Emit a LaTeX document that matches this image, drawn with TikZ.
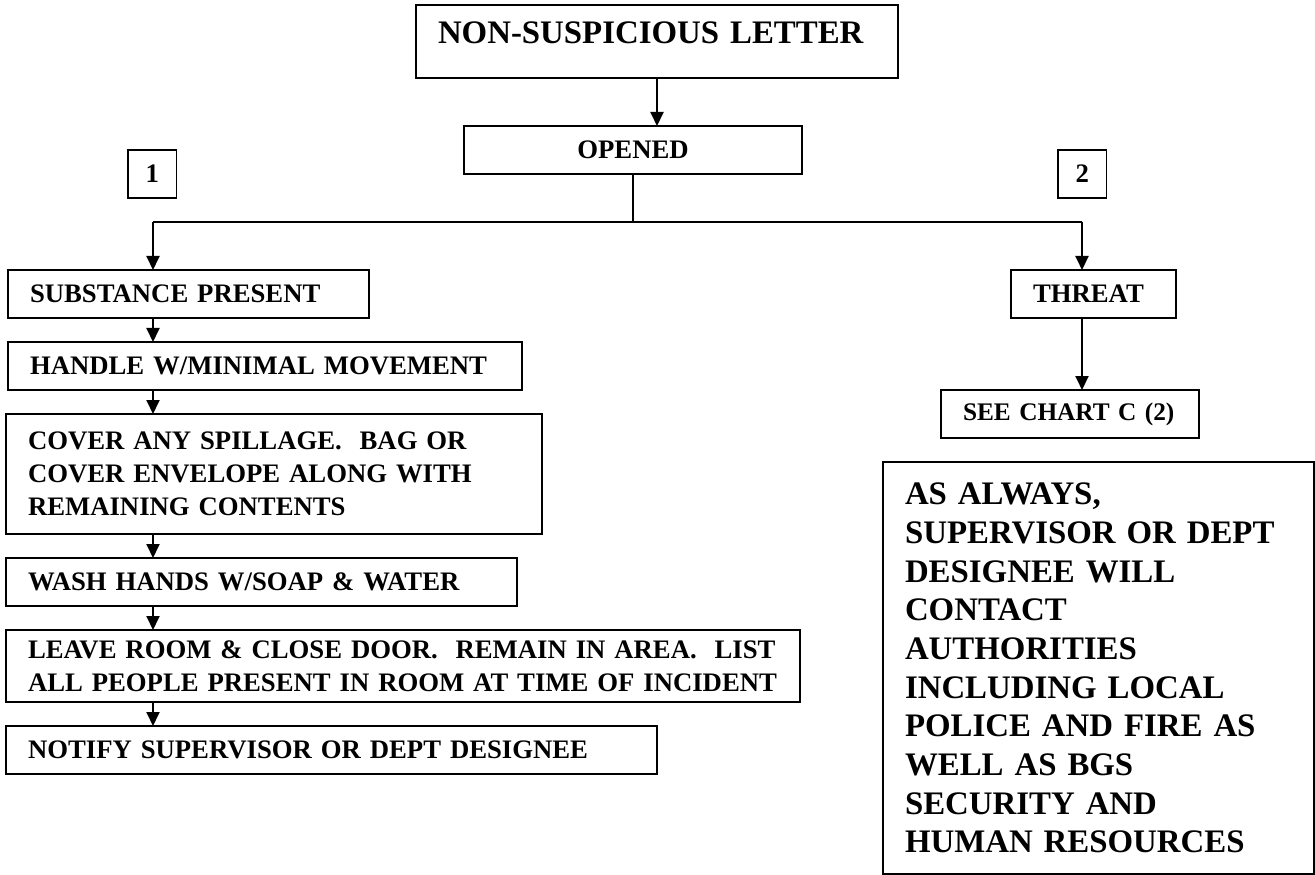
\documentclass[tikz,border=0pt]{standalone}
\usepackage{fontspec}
\setmainfont{Liberation Serif}
\usetikzlibrary{arrows.meta,positioning}

\begin{document}
\begin{tikzpicture}[line width=1.1pt, every node/.style={font=\bfseries\fontsize{15.2}{18.8}\selectfont}]
\tikzstyle{blk}=[draw, anchor=north west, inner xsep=0.44cm, inner ysep=0pt, outer sep=0pt, align=left]
\tikzstyle{num}=[draw, anchor=north west, minimum width=0.97cm, minimum height=0.96cm, inner sep=0pt, outer sep=0pt]
\tikzstyle{big}=[font=\bfseries\fontsize{18.7}{22}\selectfont]
\tikzstyle{arr}=[-{Triangle[length=0.28cm,width=0.26cm]}]
\useasboundingbox (0,0) rectangle (26.3,-17.5);
\node[blk, big, text width=8.76cm, minimum height=1.46cm, text depth=0.36cm] (let) at (8.32,-0.10) {NON-SUSPICIOUS LETTER};
\node[blk, align=center, text width=5.88cm, minimum height=0.96cm] (op) at (9.28,-2.52) {OPENED};
\node[num] (one) at (2.56,-3.00) {1};
\node[num] (two) at (21.16,-3.00) {2};
\coordinate (jl) at (3.06,-4.44);
\coordinate (jr) at (21.64,-4.44);
% left branch
\node[blk, text width=6.34cm, minimum height=0.96cm] (sub) at (0.16,-5.40) {SUBSTANCE PRESENT};
\node[blk, text width=9.40cm, minimum height=0.96cm] (hand) at (0.16,-6.84) {HANDLE W/MINIMAL MOVEMENT};
\node[blk, text width=9.84cm, minimum height=2.40cm] (cov) at (0.12,-8.28) {COVER ANY SPILLAGE.\ \ BAG OR\\COVER ENVELOPE ALONG WITH\\REMAINING CONTENTS};
\node[blk, text width=9.34cm, minimum height=0.96cm] (wash) at (0.12,-11.16) {WASH HANDS W/SOAP \& WATER};
\node[blk, text width=15.00cm, minimum height=1.44cm] (leave) at (0.12,-12.60) {LEAVE ROOM \& CLOSE DOOR.\ \ REMAIN IN AREA.\ \ LIST\\ALL PEOPLE PRESENT IN ROOM AT TIME OF INCIDENT};
\node[blk, text width=12.14cm, minimum height=0.96cm] (notify) at (0.12,-14.52) {NOTIFY SUPERVISOR OR DEPT DESIGNEE};
% right branch
\node[blk, text width=2.42cm, minimum height=0.96cm] (thr) at (20.22,-5.40) {THREAT};
\node[blk, font=\bfseries\fontsize{14.4}{18}\selectfont, text width=4.28cm, minimum height=0.96cm] (see) at (18.82,-7.80) {SEE CHART C (2)};
\node[blk, big, text width=7.74cm, minimum height=8.24cm] (auth) at (17.66,-9.24) {AS ALWAYS,\\SUPERVISOR OR DEPT\\DESIGNEE WILL\\CONTACT\\AUTHORITIES\\INCLUDING LOCAL\\POLICE AND FIRE AS\\WELL AS BGS\\SECURITY AND\\HUMAN RESOURCES};
\draw[arr] (let.south) -- (let.south |- op.north);
\draw (op.south) |- (jl);
\draw (op.south) |- (jr);
\draw[arr] (jl) -- (jl |- sub.north);
\draw[arr] (jl |- sub.south) -- (jl |- hand.north);
\draw[arr] (jl |- hand.south) -- (jl |- cov.north);
\draw[arr] (jl |- cov.south) -- (jl |- wash.north);
\draw[arr] (jl |- wash.south) -- (jl |- leave.north);
\draw[arr] (jl |- leave.south) -- (jl |- notify.north);
\draw[arr] (jr) -- (jr |- thr.north);
\draw[arr] (jr |- thr.south) -- (jr |- see.north);
\end{tikzpicture}
\end{document}
